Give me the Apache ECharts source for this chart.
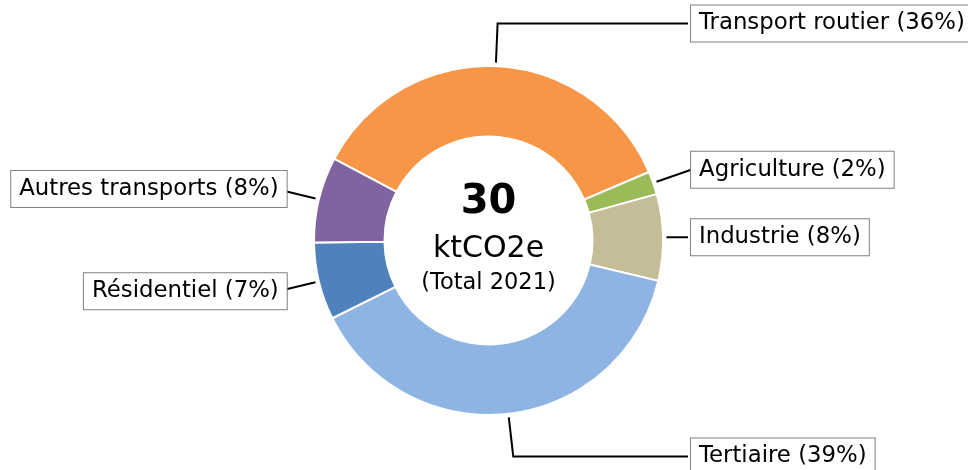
<!DOCTYPE html>
<html>
<head>
<meta charset="utf-8">
<script src="https://cdn.jsdelivr.net/npm/echarts@6/dist/echarts.min.js"></script>
<style>
  html, body { margin: 0; padding: 0; background: #fff; }
  #chart { width: 968px; height: 470px; }
</style>
</head>
<body>
<div id="chart"></div>
<script>
// secteurs, sens horaire
const categories = ['Transport routier', 'Agriculture', 'Industrie', 'Tertiaire', 'Résidentiel', 'Autres transports'];
const emissions = [10.75, 0.64, 2.4, 11.68, 2.15, 2.38]; // ktCO2e
const totalText = '30';
const unitText = 'ktCO2e';
const yearText = '(Total 2021)';

const colors = ['#F79646', '#9BBB59', '#C4BD97', '#8EB4E3', '#4F81BD', '#8064A2'];
// traits de rappel : [length, length2, distanceToLabelLine]
const leaders = [[39.2, 190.4, 3], [36.6, 1, -1], [1, 20.5, 3], [39.4, 174.7, 3], [38.6, 1, -9.8], [40.3, 1, -11.3]];

const cx = 488.5, cy = 240.5;
const font = 'DejaVu Sans';

const chart = echarts.init(document.getElementById('chart'), null, { renderer: 'canvas' });

const ringData = categories.map((name, i) => ({
  name: name,
  value: emissions[i],
  itemStyle: { color: colors[i] }
}));

const labelData = categories.map((name, i) => ({
  name: name,
  value: emissions[i],
  label: { distanceToLabelLine: leaders[i][2] },
  labelLine: { length: leaders[i][0], length2: leaders[i][1] }
}));

const option = {
  backgroundColor: '#fff',
  animation: false,
  graphic: [
    {
      type: 'text', x: cx, y: 203,
      style: { text: totalText, font: 'bold 40px "DejaVu Sans"', fill: '#000',
        textAlign: 'center', textVerticalAlign: 'middle', align: 'center', verticalAlign: 'middle' }
    },
    {
      type: 'text', x: cx, y: 249,
      style: { text: unitText, font: '30px "DejaVu Sans"', fill: '#000',
        textAlign: 'center', textVerticalAlign: 'middle', align: 'center', verticalAlign: 'middle' }
    },
    {
      type: 'text', x: cx, y: 283,
      style: { text: yearText, font: '22.5px "DejaVu Sans"', fill: '#000',
        textAlign: 'center', textVerticalAlign: 'middle', align: 'center', verticalAlign: 'middle' }
    }
  ],
  series: [
    {
      // anneau
      type: 'pie',
      center: [cx, cy],
      radius: [104, 174.5],
      startAngle: 152.1,
      clockwise: true,
      silent: true,
      label: { show: false },
      labelLine: { show: false },
      itemStyle: { borderColor: '#fff', borderWidth: 2 },
      data: ringData
    },
    {
      // etiquettes, un peu decalees de l'anneau
      type: 'pie',
      center: [cx, cy],
      radius: [177.5, 178],
      startAngle: 152.1,
      clockwise: true,
      silent: true,
      avoidLabelOverlap: false,
      percentPrecision: 0,
      itemStyle: { color: 'rgba(0,0,0,0)' },
      label: {
        show: true,
        position: 'outside',
        formatter: '{b} ({d}%)',
        color: '#000',
        fontFamily: font,
        fontSize: 22.8,
        lineHeight: 22,
        backgroundColor: '#fff',
        borderColor: '#808080',
        borderWidth: 1,
        padding: [7, 8]
      },
      labelLine: {
        show: true,
        smooth: false,
        lineStyle: { color: '#000', width: 2 }
      },
      data: labelData
    }
  ]
};

chart.setOption(option);
</script>
</body>
</html>
